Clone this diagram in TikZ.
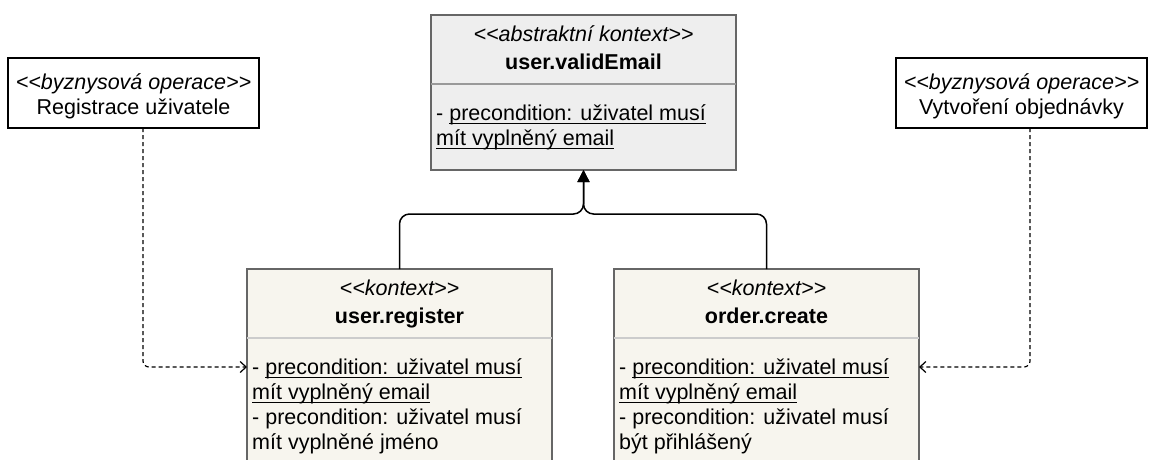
\documentclass[tikz,border=0pt]{standalone}
\usepackage{fontspec}
\setmainfont{Liberation Sans}
\usetikzlibrary{arrows.meta, positioning, calc}
\definecolor{boxgray}{HTML}{EEEEEE}
\definecolor{boxcream}{HTML}{F7F5EE}
\definecolor{edgegray}{HTML}{666666}
\definecolor{rulegray}{HTML}{999999}
\definecolor{rulecream}{HTML}{CCCCCC}
\newsavebox{\ulbox}
\newcommand{\undl}[1]{\sbox{\ulbox}{#1}\rlap{\rule[-3.9pt]{\wd\ulbox}{1.1pt}}\usebox{\ulbox}}

\begin{document}
\begin{tikzpicture}[x=1pt, y=-1pt,
    font=\fontsize{21.5}{25}\selectfont,
    classbox/.style={draw=edgegray, line width=1.3pt, minimum width=305pt, inner sep=0pt, outer sep=0pt, anchor=north west},
    opbox/.style={draw=black, line width=1.1pt, fill=white, minimum width=251pt, minimum height=70pt, inner sep=0pt, outer sep=0pt, anchor=north west},
    txt/.style={inner sep=0pt, anchor=base},
    bodytxt/.style={inner sep=0pt, anchor=north west, align=left},
    inherit/.style={line width=1.5pt, rounded corners=10pt, -{Triangle[length=12pt, width=12pt]}},
    depend/.style={line width=1.2pt, dash pattern=on 4pt off 3pt, rounded corners=6pt, -{Straight Barb[length=6pt, width=11pt]}}]

  \useasboundingbox (0,0) rectangle (1154,459);

  % Abstract context
  \node[classbox, fill=boxgray, minimum height=155pt] (valid) at (431,15) {};
  \node[txt] (validSt) at ([yshift=-26pt]valid.north) {\textit{<{}<abstraktní kontext>{}>}};
  \node[txt] (validNm) at ([yshift=-54pt]valid.north) {\textbf{user.validEmail}};
  \draw[rulegray, line width=1.3pt] ([yshift=-69pt]valid.north west) -- ([yshift=-69pt]valid.north east);
  \node[bodytxt] (validTx) at ([xshift=5pt, yshift=-89pt]valid.north west)
    {- \undl{precondition: uživatel musí}\\\undl{mít vyplněný email}};

  % Contexts
  \node[classbox, fill=boxcream, minimum height=200pt] (reg) at (247,269) {};
  \node[txt] (regSt) at ([yshift=-26pt]reg.north) {\textit{<{}<kontext>{}>}};
  \node[txt] (regNm) at ([yshift=-54pt]reg.north) {\textbf{user.register}};
  \draw[rulecream, line width=1.3pt] ([yshift=-69pt]reg.north west) -- ([yshift=-69pt]reg.north east);
  \node[bodytxt] (regTx) at ([xshift=5pt, yshift=-89pt]reg.north west)
    {- \undl{precondition: uživatel musí}\\\undl{mít vyplněný email}\\- precondition: uživatel musí\\mít vyplněné jméno};

  \node[classbox, fill=boxcream, minimum height=200pt] (ord) at (614,269) {};
  \node[txt] (ordSt) at ([yshift=-26pt]ord.north) {\textit{<{}<kontext>{}>}};
  \node[txt] (ordNm) at ([yshift=-54pt]ord.north) {\textbf{order.create}};
  \draw[rulecream, line width=1.3pt] ([yshift=-69pt]ord.north west) -- ([yshift=-69pt]ord.north east);
  \node[bodytxt] (ordTx) at ([xshift=5pt, yshift=-89pt]ord.north west)
    {- \undl{precondition: uživatel musí}\\\undl{mít vyplněný email}\\- precondition: uživatel musí\\být přihlášený};

  % Business operations
  \node[opbox] (opReg) at (8,58) {};
  \node[txt] (opRegSt) at ([yshift=-31pt]opReg.north) {\textit{<{}<byznysová operace>{}>}};
  \node[txt] (opRegNm) at ([yshift=-56pt]opReg.north) {Registrace uživatele};

  \node[opbox] (opOrd) at (896,58) {};
  \node[txt] (opOrdSt) at ([yshift=-31pt]opOrd.north) {\textit{<{}<byznysová operace>{}>}};
  \node[txt] (opOrdNm) at ([yshift=-56pt]opOrd.north) {Vytvoření objednávky};

  % Generalisation
  \coordinate (junc) at (583.5,214);
  \draw[inherit] (reg.north) |- (junc) -- (valid.south);
  \draw[inherit] (ord.north) |- (junc) -- (valid.south);

  % Dependencies
  \draw[depend] ([xshift=9.5pt]opReg.south) |- ([yshift=-98pt]reg.north west);
  \draw[depend] ([xshift=8.5pt]opOrd.south) |- ([yshift=-98pt]ord.north east);
\end{tikzpicture}
\end{document}
